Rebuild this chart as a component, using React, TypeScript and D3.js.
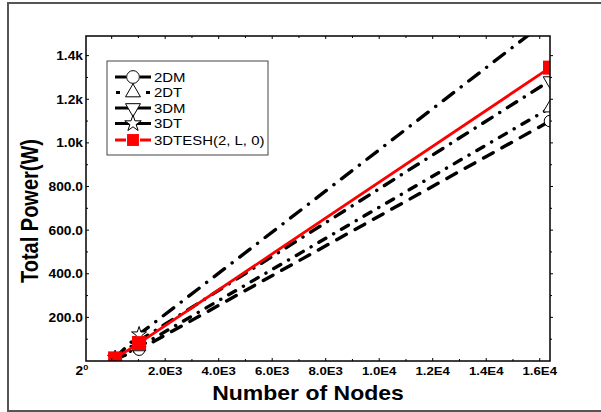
import React from 'react';
import * as d3 from 'd3';

// number of nodes in the network
const nodes = [128, 1024, 16384];

// total power (W) per topology
const power2DM = [8, 52, 1100];
const power2DT = [9, 65, 1160];
const power3DM = [12, 93, 1285];
const power3DT = [14, 122, 1570];
const power3DTESH = [12, 82, 1345];

const seriesNames = ['2DM', '2DT', '3DM', '3DT', '3DTESH(2, L, 0)'];

const xTicks = [2000, 4000, 6000, 8000, 10000, 12000, 14000, 16000];
const xTickLabels = ['2.0E3', '4.0E3', '6.0E3', '8.0E3', '1.0E4', '1.2E4', '1.4E4', '1.6E4'];
const yTicks = [200, 400, 600, 800, 1000, 1200, 1400];
const yTickLabels = ['200.0', '400.0', '600.0', '800.0', '1.0k', '1.2k', '1.4k'];

const W = 601;
const H = 412;
const left = 86, right = 550, top = 36, bottom = 361;
const font = '"Liberation Sans", Arial, sans-serif';
const SX = 1.15; // the picture is a bit wider than tall, text looks stretched

const x = d3.scaleLinear().domain([-960, 16384]).range([left, right]);
const y = d3.scaleLinear().domain([0, 1490]).range([bottom, top]);

const styles = [
  { data: power2DM, color: '#000', dash: '11,10', shape: 'circle' },
  { data: power2DT, color: '#000', dash: '8,9,0.1,9', shape: 'triUp' },
  { data: power3DM, color: '#000', dash: '11,9,0.1,9', shape: 'triDown' },
  { data: power3DT, color: '#000', dash: '13,9.5,0.1,9.5', shape: 'star' },
  { data: power3DTESH, color: '#f00', dash: null, shape: 'square' },
];

const Marker = ({ shape, cx, cy, s = 1 }: { shape: string; cx: number; cy: number; s?: number }) => {
  if (shape === 'circle')
    return <circle cx={cx} cy={cy} r={5.8 * s} fill="#fff" stroke="#000" strokeWidth={1} />;
  if (shape === 'square')
    return <rect x={cx - 7 * s} y={cy - 7 * s} width={14 * s} height={14 * s} fill="#f00" />;
  let path = '';
  let rot = 0;
  if (shape === 'triUp' || shape === 'triDown') {
    path = d3.symbol().type(d3.symbolTriangle).size(80 * s * s)() as string;
    rot = shape === 'triDown' ? 180 : 0;
  } else {
    path = d3.symbol().type(d3.symbolStar).size(70 * s * s)() as string;
  }
  return (
    <path d={path} transform={`translate(${cx},${cy}) rotate(${rot})`} fill="#fff" stroke="#000" strokeWidth={1} />
  );
};

const Label = ({ x0, y0, anchor, size, bold, children }: any) => (
  <text transform={`translate(${x0},${y0}) scale(${SX},1)`} textAnchor={anchor} fontFamily={font}
    fontWeight={bold ? 'bold' : 'normal'} fontSize={size}>
    {children}
  </text>
);

export default function App() {
  const line = d3.line<number>().x((_, i) => x(nodes[i])).y(d => y(d));
  const xMinor = d3.range(0, 16384, 1000);
  const yMinor = d3.range(100, 1490, 100);
  const legendRows = [77, 92.5, 108, 123.5, 140];

  return (
    <svg width={W} height={H} style={{ position: 'absolute', left: 0, top: 0, background: '#fff' }}>
      <defs>
        <clipPath id="plot">
          <rect x={left} y={top} width={right - left} height={bottom - top} />
        </clipPath>
      </defs>
      <rect x={8} y={3} width={600} height={408} fill="none" stroke="#555" strokeWidth={2} />

      {/* series */}
      <g clipPath="url(#plot)">
        {styles.map((s, k) => (
          <path key={k} d={line(s.data) as string} fill="none" stroke={s.color}
            strokeWidth={k === 4 ? 2.8 : 3.4} strokeLinecap={k === 4 ? 'butt' : 'round'}
            strokeDasharray={s.dash ?? undefined} />
        ))}
        {styles.map((s, k) =>
          s.data.map((v, i) => <Marker key={`${k}-${i}`} shape={s.shape} cx={x(nodes[i])} cy={y(v)} />)
        )}
      </g>

      {/* frame */}
      <rect x={left} y={top} width={right - left} height={bottom - top} fill="none" stroke="#000" strokeWidth={1.5} />
      {xMinor.map(t => (
        <g key={`xm${t}`}>
          <line x1={x(t)} x2={x(t)} y1={bottom} y2={bottom - (t % 2000 === 0 ? 3 : 2)} stroke="#000" />
          <line x1={x(t)} x2={x(t)} y1={top} y2={top + (t % 2000 === 0 ? 3 : 2)} stroke="#000" />
        </g>
      ))}
      {yMinor.map(t => (
        <g key={`ym${t}`}>
          <line x1={left} x2={left + (t % 200 === 0 ? 3 : 2)} y1={y(t)} y2={y(t)} stroke="#000" />
          <line x1={right} x2={right + (t % 200 === 0 ? 3 : 2)} y1={y(t)} y2={y(t)} stroke="#000" />
        </g>
      ))}

      {/* tick labels */}
      {xTicks.map((t, i) => (
        <Label key={`xl${t}`} x0={x(t)} y0={375} anchor="middle" size={11.5} bold>{xTickLabels[i]}</Label>
      ))}
      <Label x0={82} y0={375} anchor="middle" size={12} bold>
        2<tspan dy={-5} fontSize={8}>0</tspan>
      </Label>
      {yTicks.map((t, i) => (
        <Label key={`yl${t}`} x0={83} y0={y(t) + 4.5} anchor="end" size={12} bold>{yTickLabels[i]}</Label>
      ))}

      {/* axis titles */}
      <Label x0={308} y0={400} anchor="middle" size={20} bold>Number of Nodes</Label>
      <text transform={`translate(38,211) scale(${SX},1) rotate(-90)`} textAnchor="middle" fontFamily={font}
        fontWeight="bold" fontSize={20}>
        Total Power(W)
      </text>

      {/* legend */}
      <rect x={107} y={61} width={161} height={94} fill="#fff" stroke="#444" strokeWidth={1} />
      {styles.map((s, k) => {
        const ly = legendRows[k];
        const short = k === 1;
        return (
          <g key={`lg${k}`}>
            <line x1={short ? 116 : 115} x2={short ? 120 : 126} y1={ly} y2={ly} stroke={s.color} strokeWidth={3} />
            <line x1={short ? 146 : 140} x2={short ? 150 : 151} y1={ly} y2={ly} stroke={s.color} strokeWidth={3} />
            {(k === 2 || k === 3) && <line x1={126} x2={140} y1={ly} y2={ly} stroke="#000" strokeWidth={3} />}
            <Marker shape={s.shape} cx={133} cy={ly} s={k === 4 ? 0.85 : 1.1} />
            <Label x0={154} y0={ly + 4.5} anchor="start" size={13}>{seriesNames[k]}</Label>
          </g>
        );
      })}
    </svg>
  );
}
